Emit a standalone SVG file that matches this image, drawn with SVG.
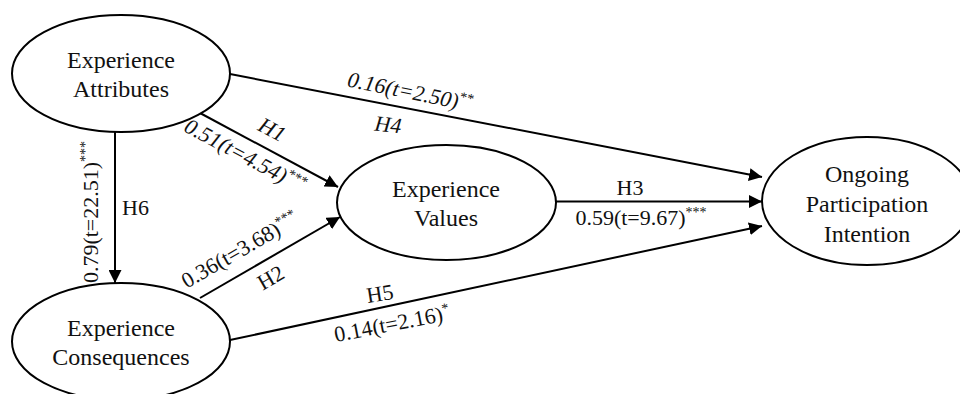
<svg xmlns="http://www.w3.org/2000/svg" width="960" height="394" viewBox="0 0 960 394">
<style>
.node{fill:#fff;stroke:#000;stroke-width:2}
.nt{font-family:"Liberation Serif",serif;font-size:24px;fill:#111;text-anchor:middle}
.lb{font-family:"Liberation Serif",serif;font-size:22px;fill:#111}
.it{font-style:italic}
.conn line{stroke:#000;stroke-width:2;marker-end:url(#arr)}
</style>
<defs>
<marker id="arr" viewBox="0 0 13 13" refX="13" refY="6.5" markerWidth="13" markerHeight="13" markerUnits="userSpaceOnUse" orient="auto">
<path d="M0,0 L13,6.5 L0,13 z" fill="#000"/>
</marker>
</defs>
<rect width="960" height="394" fill="#fff"/>
<g class="conn" id="connectors">
<line x1="115" y1="131" x2="115" y2="283"/>
<line x1="200" y1="113" x2="338" y2="187"/>
<line x1="230" y1="74" x2="762" y2="177"/>
<line x1="200" y1="298" x2="340" y2="217"/>
<line x1="556" y1="201.5" x2="762" y2="201.5"/>
<line x1="230" y1="340" x2="762" y2="226"/>
</g>
<g id="node-attributes">
<ellipse class="node" cx="121" cy="73.5" rx="109" ry="58.5"/>
<text class="nt" x="121" y="68">Experience</text>
<text class="nt" x="121" y="97">Attributes</text>
</g>
<g id="node-consequences">
<ellipse class="node" cx="121" cy="341.5" rx="109" ry="58.5"/>
<text class="nt" x="121" y="336">Experience</text>
<text class="nt" x="121" y="365">Consequences</text>
</g>
<g id="node-values">
<ellipse class="node" cx="446.5" cy="202.5" rx="109.5" ry="57.5"/>
<text class="nt" x="446" y="197">Experience</text>
<text class="nt" x="446" y="226">Values</text>
</g>
<g id="node-intention">
<ellipse class="node" cx="867" cy="201" rx="105" ry="64"/>
<text class="nt" x="867" y="182">Ongoing</text>
<text class="nt" x="867" y="212">Participation</text>
<text class="nt" x="867" y="242">Intention</text>
</g>
<g id="labels">
<text class="lb" text-anchor="middle" transform="translate(98,212) rotate(-90)">0.79(t=22.51)<tspan font-size="14" dy="-8">***</tspan></text>
<text class="lb" x="122" y="215">H6</text>
<text class="lb it" text-anchor="middle" transform="translate(272,130) rotate(28)" y="7">H1</text>
<text class="lb it" text-anchor="middle" transform="translate(245,156) rotate(28)" y="7">0.51(t=4.54)<tspan font-size="14" dy="-8">***</tspan></text>
<text class="lb it" text-anchor="middle" transform="translate(410,92) rotate(11.5)" y="7">0.16(t=2.50)<tspan font-size="14" dy="-8">**</tspan></text>
<text class="lb it" text-anchor="middle" transform="translate(388,125) rotate(6)" y="7">H4</text>
<text class="lb" text-anchor="middle" transform="translate(240,250) rotate(-30)" y="7">0.36(t=3.68)<tspan font-size="14" dy="-8">***</tspan></text>
<text class="lb" text-anchor="middle" transform="translate(271,278) rotate(-30)" y="7">H2</text>
<text class="lb" x="630" y="195" text-anchor="middle">H3</text>
<text class="lb" x="641" y="225" text-anchor="middle">0.59(t=9.67)<tspan font-size="14" dy="-8">***</tspan></text>
<text class="lb" text-anchor="middle" transform="translate(380,294) rotate(-9)" y="7">H5</text>
<text class="lb" text-anchor="middle" transform="translate(392,324) rotate(-11)" y="7">0.14(t=2.16)<tspan font-size="14" dy="-8">*</tspan></text>
</g>
</svg>
